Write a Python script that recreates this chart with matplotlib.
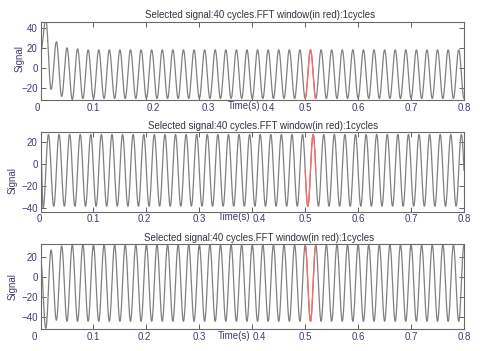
import numpy as np
import matplotlib.pyplot as plt
from matplotlib.transforms import ScaledTranslation

plt.rcParams['font.family'] = ['Liberation Sans', 'DejaVu Sans']

title_text = "Selected signal:40 cycles.FFT window(in red):1cycles"
x_ticks = [0, 0.1, 0.2, 0.3, 0.4, 0.5, 0.6, 0.7, 0.8]
x_tick_labels = ["0", "0.1", "0.2", "0.3", "0.4", "0.5", "0.6", "0.7", "0.8"]
window = [0.5, 0.52]
half_period = 0.01

# panel 1
y_ticks_1 = [-20, 0, 20, 40]
y_lim_1 = [-31.5, 46]
start_1 = 15
first_ext_1 = 0.01
transient_1 = [48, -21, 26, -28, 20, -31, 19]
steady_1 = [-30, 18]

# panel 2
y_ticks_2 = [-40, -20, 0, 20]
y_lim_2 = [-43.5, 29]
start_2 = 22
first_ext_2 = 0.005
transient_2 = [-40, 27]
steady_2 = [-38.5, 27]

# panel 3
y_ticks_3 = [-40, -20, 0, 20]
y_lim_3 = [-52, 33]
start_3 = 18
first_ext_3 = 0.01
transient_3 = [-51, 27, -43, 31]
steady_3 = [-44, 32]


def wave(t, start, t_first, transient, steady):
    # extrema, joined by half-cosine strokes
    n = int(round((0.8 - t_first) / half_period)) + 2
    first_is_peak = transient[0] > transient[1]
    vals = list(transient)
    while len(vals) < n:
        i = len(vals)
        vals.append(steady[1] if (i % 2 == 0) == first_is_peak else steady[0])
    tk = np.concatenate([[0.0], t_first + half_period * np.arange(n)])
    vk = np.concatenate([[start], vals])
    idx = np.clip(np.searchsorted(tk, t, side="right") - 1, 0, len(tk) - 2)
    ta, tb = tk[idx], tk[idx + 1]
    va, vb = vk[idx], vk[idx + 1]
    return va + (vb - va) * (1 - np.cos(np.pi * (t - ta) / (tb - ta))) / 2


panels = [
    dict(yt=y_ticks_1, yl=y_lim_1, start=start_1, tf=first_ext_1, tr=transient_1, st=steady_1,
         pos=[0.0844, 0.7151, 0.8823, 0.2236], ylab=(-0.05, 0.53), xlab=(0.4805, -0.08),
         shifts={"0": -3, "0.2": 7, "0.3": 9, "0.4": 16}, title_x=0.5185),
    dict(yt=y_ticks_2, yl=y_lim_2, start=start_2, tf=first_ext_2, tr=transient_2, st=steady_2,
         pos=[0.0844, 0.3969, 0.8823, 0.2262], ylab=(-0.065, 0.395), xlab=(0.457, -0.065),
         shifts={"0": -1, "0.2": -2, "0.4": 7}, title_x=0.5245),
    dict(yt=y_ticks_3, yl=y_lim_3, start=start_3, tf=first_ext_3, tr=transient_3, st=steady_3,
         pos=[0.0844, 0.0618, 0.8823, 0.2430], ylab=(-0.065, 0.5), xlab=(0.457, -0.075),
         shifts={"0": -6, "0.2": -2, "0.4": 7}, title_x=0.516),
]

grey = "#808080"
red = "#ff6a6a"
lab_col = "#47396b"

fig = plt.figure(figsize=(4.8, 3.51), dpi=100)
t = np.linspace(0, 0.8, 6001)

for p in panels:
    ax = fig.add_axes(p["pos"])
    y = wave(t, p["start"], p["tf"], p["tr"], p["st"])
    ax.plot(t, y, color=grey, lw=0.9)
    m = (t >= window[0]) & (t <= window[1])
    ax.plot(t[m], y[m], color=red, lw=0.9)

    ax.set_xlim(0, 0.8)
    ax.set_ylim(p["yl"])
    ax.set_xticks(x_ticks)
    ax.set_xticklabels(x_tick_labels)
    ax.set_yticks(p["yt"])
    ax.tick_params(direction="in", top=True, right=True, length=3.5, width=0.7,
                   colors="#606060", labelcolor=lab_col, labelsize=7, pad=2)
    for s in ax.spines.values():
        s.set_color("#6a6a6a")
        s.set_linewidth(0.8)

    for lbl in ax.get_xticklabels():
        dx = p["shifts"].get(lbl.get_text(), 0)
        if dx:
            lbl.set_transform(lbl.get_transform() + ScaledTranslation(dx / 100, 0, fig.dpi_scale_trans))

    ax.set_ylabel("Signal", fontsize=7, color=lab_col, va="center")
    ax.yaxis.set_label_coords(*p["ylab"])
    ax.set_xlabel("Time(s)", fontsize=7, color=lab_col, va="center")
    ax.xaxis.set_label_coords(*p["xlab"])
    ax.set_title(title_text, fontsize=7, color="#333340", pad=2.5, x=p["title_x"])

fig.savefig("out.png", dpi=100)
